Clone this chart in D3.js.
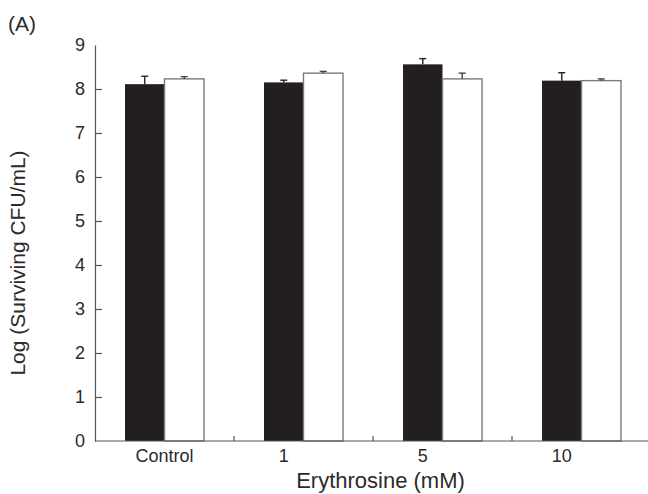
<!DOCTYPE html>
<html>
<head>
<meta charset="utf-8">
<script src="https://cdn.jsdelivr.net/npm/d3@7"></script>
<style>
  body { margin: 0; background: #fff; }
  svg { display: block; }
</style>
</head>
<body>
<div id="chart"></div>
<script>
// Chart data
const categories = ["Control", "1", "5", "10"];
const seriesNames = ["dark", "light"];
const darkValues = [8.11, 8.15, 8.56, 8.19];
const darkErrors = [0.18, 0.05, 0.13, 0.18];
const lightValues = [8.23, 8.36, 8.23, 8.19];
const lightErrors = [0.05, 0.04, 0.13, 0.04];
const yTicks = [0, 1, 2, 3, 4, 5, 6, 7, 8, 9];

const width = 648, height = 494;
const margin = { top: 45, right: -3, bottom: 53, left: 95 };
const textColor = "#2b2b2b";
const axisColor = "#555";

const svg = d3.select("#chart").append("svg")
    .attr("width", width)
    .attr("height", height)
    .style("font-family", "'Liberation Sans', Arial, sans-serif");

// Scales
const x = d3.scaleBand()
    .domain(categories)
    .range([margin.left, width - margin.right])
    .padding(0);

const xSub = d3.scaleBand()
    .domain(seriesNames)
    .range([0, x.bandwidth()])
    .paddingInner(0)
    .paddingOuter(0.76);

const y = d3.scaleLinear()
    .domain([0, 9])
    .range([height - margin.bottom, margin.top]);

// Build rows for bars
const rows = [];
categories.forEach((c, i) => {
    rows.push({ cat: c, series: "dark", value: darkValues[i], err: darkErrors[i] });
    rows.push({ cat: c, series: "light", value: lightValues[i], err: lightErrors[i] });
});

// Bars
svg.append("g")
    .selectAll("rect")
    .data(rows)
    .join("rect")
    .attr("x", d => x(d.cat) + xSub(d.series))
    .attr("y", d => y(d.value))
    .attr("width", xSub.bandwidth())
    .attr("height", d => y(0) - y(d.value))
    .attr("fill", d => d.series === "dark" ? "#231f20" : "#fff")
    .attr("stroke", d => d.series === "dark" ? "none" : "#7a7a7a")
    .attr("stroke-width", 1.4);

// Error bars (upper only)
const errG = svg.append("g");
rows.forEach(d => {
    const cx = x(d.cat) + xSub(d.series) + xSub.bandwidth() / 2;
    const col = d.series === "dark" ? "#222" : "#444";
    errG.append("line")
        .attr("x1", cx).attr("x2", cx)
        .attr("y1", y(d.value)).attr("y2", y(d.value + d.err))
        .attr("stroke", col).attr("stroke-width", 1.4);
    errG.append("line")
        .attr("x1", cx - 3.5).attr("x2", cx + 3.5)
        .attr("y1", y(d.value + d.err)).attr("y2", y(d.value + d.err))
        .attr("stroke", col).attr("stroke-width", 1.4);
});

// Y axis
const yAxis = d3.axisLeft(y)
    .tickValues(yTicks)
    .tickFormat(d3.format("d"))
    .tickSizeInner(-7)
    .tickSizeOuter(0)
    .tickPadding(10);

const yAxisG = svg.append("g")
    .attr("transform", `translate(${margin.left},0)`)
    .call(yAxis);
yAxisG.select(".domain").attr("stroke", axisColor).attr("stroke-width", 1.2);
yAxisG.selectAll(".tick line").attr("stroke", axisColor).attr("stroke-width", 1.2)
    .filter(d => d === 9 || d === 0).remove();
yAxisG.selectAll(".tick text")
    .attr("fill", textColor)
    .attr("font-size", "18px");

// X axis line
svg.append("line")
    .attr("x1", margin.left).attr("x2", width)
    .attr("y1", y(0)).attr("y2", y(0))
    .attr("stroke", axisColor).attr("stroke-width", 1.2);

// Category boundary ticks (pointing up)
svg.append("g")
    .selectAll("line")
    .data(categories)
    .join("line")
    .attr("x1", d => x(d) + x.bandwidth())
    .attr("x2", d => x(d) + x.bandwidth())
    .attr("y1", y(0))
    .attr("y2", y(0) - 5)
    .attr("stroke", axisColor)
    .attr("stroke-width", 1.2);

// Category labels
svg.append("g")
    .selectAll("text")
    .data(categories)
    .join("text")
    .attr("x", d => d === "Control"
        ? x(d) + x.bandwidth() / 2
        : x(d) + xSub("dark") + xSub.bandwidth() / 2)
    .attr("y", y(0) + 21)
    .attr("text-anchor", "middle")
    .attr("fill", textColor)
    .attr("font-size", "18px")
    .text(d => d);

// Axis titles
svg.append("text")
    .attr("x", (margin.left + width) / 2 + 9)
    .attr("y", 488)
    .attr("text-anchor", "middle")
    .attr("fill", textColor)
    .attr("font-size", "22px")
    .text("Erythrosine (mM)");

svg.append("text")
    .attr("transform", "rotate(-90)")
    .attr("x", -263)
    .attr("y", 25)
    .attr("text-anchor", "middle")
    .attr("fill", textColor)
    .attr("font-size", "21px")
    .text("Log (Surviving CFU/mL)");

// Panel label
svg.append("text")
    .attr("x", 8)
    .attr("y", 31)
    .attr("fill", textColor)
    .attr("font-size", "21px")
    .text("(A)");
</script>
</body>
</html>
